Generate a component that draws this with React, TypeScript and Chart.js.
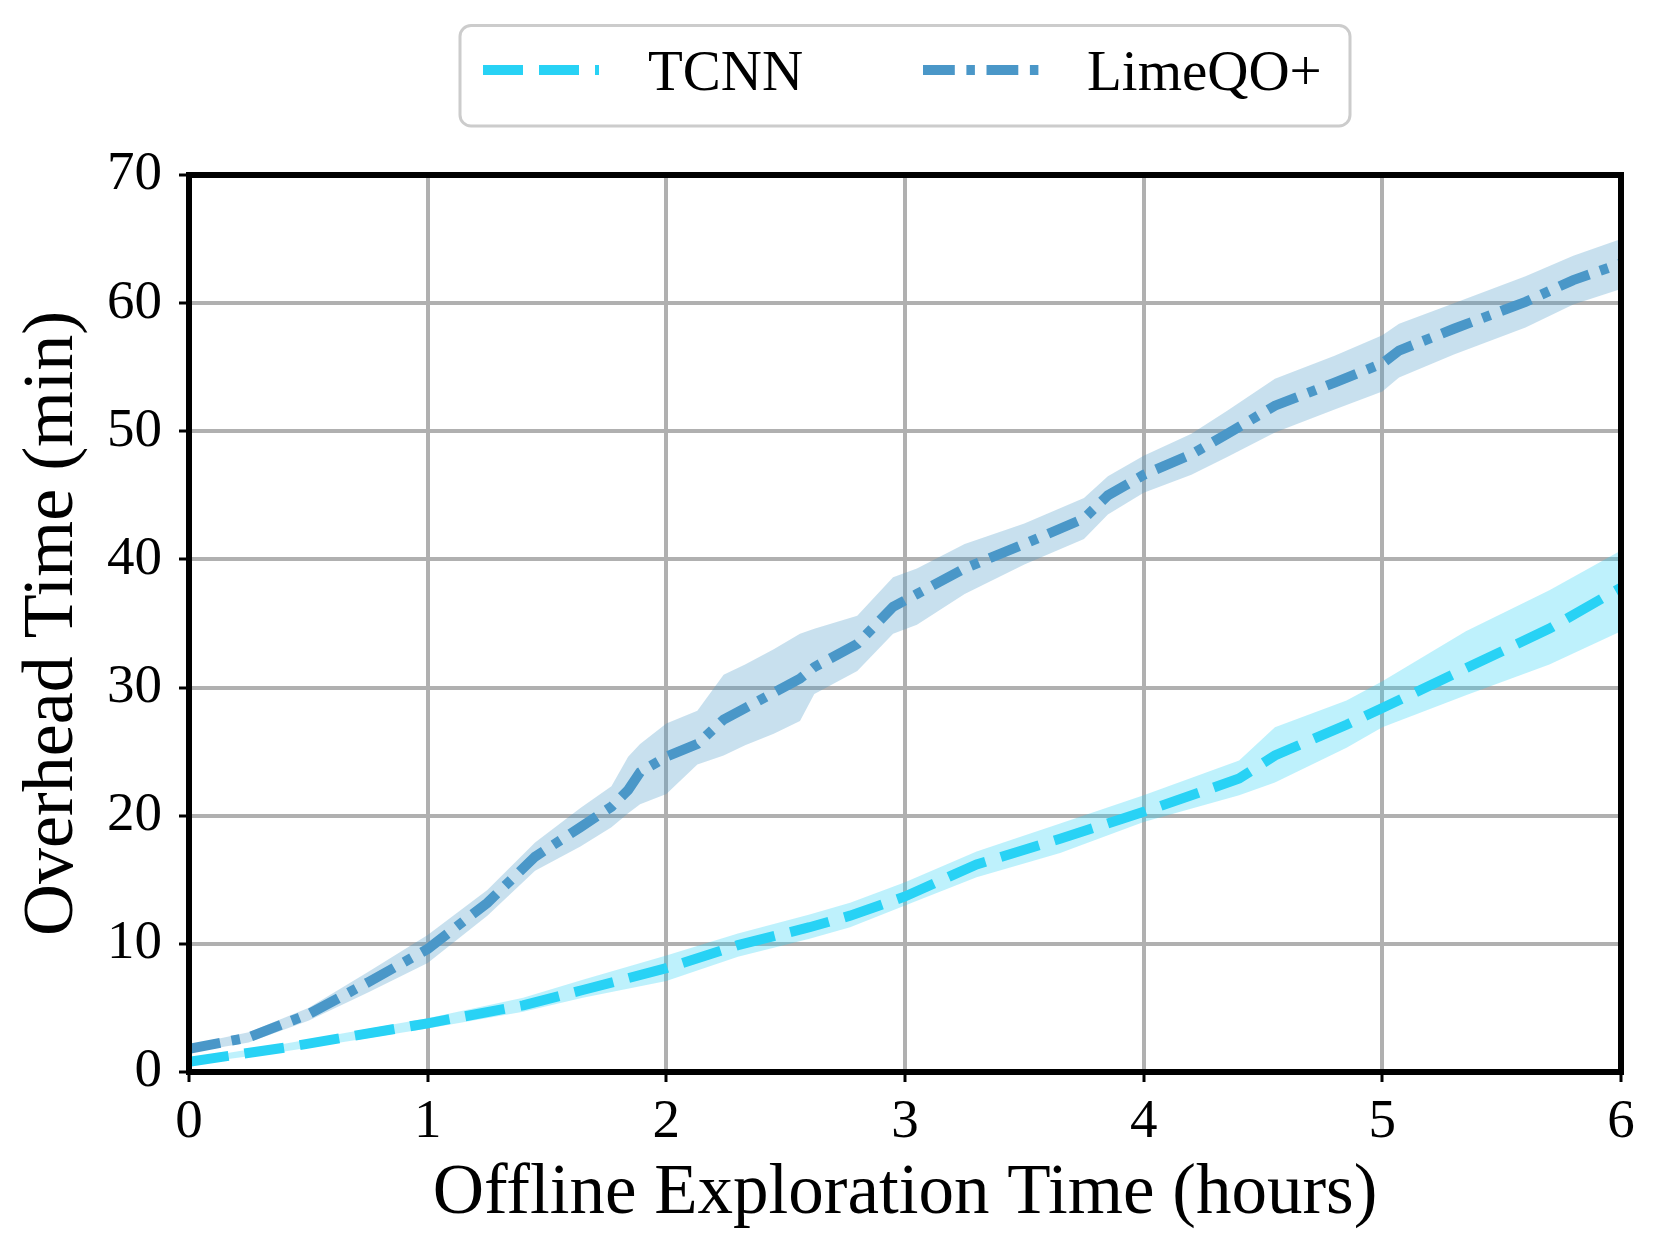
import React, { useEffect, useRef } from 'react';
import { Chart, registerables } from 'chart.js';

Chart.register(...registerables);

// ---- Data ----
const seriesNames = ['TCNN', 'LimeQO+'];

const tcnnHours = [0, 0.4, 1.0, 1.4, 1.65, 2.0, 2.3, 2.6, 2.77, 3.0, 3.3, 3.65, 4.0, 4.4, 4.55, 4.85, 5.0, 5.35, 5.7, 6.0];
const tcnnMean = [0.8, 1.9, 3.8, 5.2, 6.4, 8.1, 9.9, 11.3, 12.2, 13.7, 16.2, 18.2, 20.3, 22.9, 24.7, 27.1, 28.4, 31.5, 34.6, 37.8];
const tcnnLow = [0.6, 1.6, 3.4, 4.7, 5.8, 7.1, 9.0, 10.4, 11.3, 13.0, 15.2, 17.1, 19.5, 21.6, 22.6, 25.3, 26.9, 29.4, 31.8, 34.4];
const tcnnHigh = [1.0, 2.2, 4.2, 5.8, 7.2, 9.1, 10.8, 12.3, 13.2, 14.8, 17.2, 19.4, 21.6, 24.3, 26.9, 29.0, 30.5, 34.4, 37.6, 40.7];

const limeHours = [0, 0.25, 0.5, 0.75, 1.0, 1.25, 1.45, 1.64, 1.77, 1.84, 1.89, 2.0, 2.13, 2.24, 2.33, 2.45, 2.56, 2.62, 2.8, 2.95, 3.05, 3.25, 3.5, 3.75, 3.85, 4.0, 4.2, 4.35, 4.55, 4.8, 5.0, 5.07, 5.3, 5.6, 5.8, 6.0];
const limeMean = [1.8, 2.7, 4.5, 7.0, 9.6, 13.2, 16.8, 19.1, 20.7, 22.0, 23.4, 24.6, 25.6, 27.5, 28.4, 29.6, 30.7, 31.6, 33.4, 36.3, 37.3, 39.3, 41.2, 43.2, 45.0, 46.6, 48.2, 49.8, 52.0, 53.8, 55.3, 56.3, 58.0, 60.1, 61.8, 63.1];
const limeLow = [1.5, 2.3, 4.0, 6.2, 8.5, 12.2, 15.7, 17.6, 19.1, 20.2, 20.9, 21.7, 24.0, 24.7, 25.5, 26.4, 27.4, 29.5, 31.3, 34.2, 34.9, 37.3, 39.6, 41.6, 43.5, 45.2, 46.6, 48.0, 49.9, 51.7, 53.1, 54.2, 56.0, 58.1, 59.9, 61.1];
const limeHigh = [2.1, 3.1, 5.0, 7.8, 10.7, 14.2, 17.9, 20.6, 22.3, 24.6, 25.6, 27.2, 28.2, 31.0, 31.8, 33.0, 34.2, 34.6, 35.6, 38.6, 39.3, 41.2, 42.8, 44.8, 46.5, 48.1, 49.8, 51.6, 54.1, 55.9, 57.5, 58.4, 60.0, 62.1, 63.7, 65.0];

const xTicks = [0, 1, 2, 3, 4, 5, 6];
const yTicks = [0, 10, 20, 30, 40, 50, 60, 70];

const xTitle = 'Offline Exploration Time (hours)';
const yTitle = 'Overhead Time (min)';

// ---- Styles ----
const FONT = "'Liberation Serif', 'Times New Roman', serif";
const tcnnColor = '#28d2f5';
const tcnnBand = 'rgba(40,210,245,0.3)';
const limeColor = '#4a97c8';
const limeBand = 'rgba(74,151,200,0.3)';
const tcnnDash = [40, 16];
const limeDash = [31.8, 11.6, 8.5, 11.6];

const pts = (xs: number[], ys: number[]) => xs.map((x, i) => ({ x, y: ys[i] }));

const framePlugin = {
  id: 'frame',
  afterDatasetsDraw(chart: any) {
    const { ctx, chartArea } = chart;
    ctx.save();
    ctx.strokeStyle = '#000';
    ctx.lineWidth = 6;
    ctx.setLineDash([]);
    ctx.strokeRect(chartArea.left, chartArea.top, chartArea.right - chartArea.left, chartArea.bottom - chartArea.top);
    ctx.restore();
  },
};

const legendPlugin = {
  id: 'boxLegend',
  afterDraw(chart: any) {
    const ctx = chart.ctx;
    ctx.save();
    ctx.beginPath();
    ctx.roundRect(460, 25.5, 890, 100.5, 11);
    ctx.fillStyle = 'rgba(255,255,255,0.8)';
    ctx.fill();
    ctx.lineWidth = 3;
    ctx.strokeStyle = '#cccccc';
    ctx.stroke();

    const items = chart.data.datasets.filter((d: any) => d.showInLegend);
    const sampleX = [483, 923];
    const textX = [648, 1087];
    items.forEach((d: any, i: number) => {
      ctx.beginPath();
      ctx.setLineDash(d.borderDash || []);
      ctx.lineDashOffset = 0;
      ctx.lineCap = 'butt';
      ctx.lineWidth = d.borderWidth;
      ctx.strokeStyle = d.borderColor;
      ctx.moveTo(sampleX[i], 70);
      ctx.lineTo(sampleX[i] + 116, 70);
      ctx.stroke();
      ctx.setLineDash([]);
      ctx.fillStyle = '#000';
      ctx.font = `57px ${FONT}`;
      ctx.textBaseline = 'alphabetic';
      ctx.textAlign = 'left';
      ctx.fillText(d.label, textX[i], 90);
    });
    ctx.restore();
  },
};

export default function App() {
  const ref = useRef<HTMLCanvasElement | null>(null);

  useEffect(() => {
    document.body.style.margin = '0';
    const canvas = ref.current;
    if (!canvas) return;
    const chart = new Chart(canvas, {
      type: 'line',
      data: {
        datasets: [
          {
            label: seriesNames[0],
            showInLegend: true,
            data: pts(tcnnHours, tcnnMean),
            borderColor: tcnnColor,
            borderWidth: 10,
            borderDash: tcnnDash,
            borderCapStyle: 'butt',
            pointRadius: 0,
            tension: 0,
            fill: false,
            order: 0,
          } as any,
          {
            label: seriesNames[1],
            showInLegend: true,
            data: pts(limeHours, limeMean),
            borderColor: limeColor,
            borderWidth: 10,
            borderDash: limeDash,
            borderCapStyle: 'butt',
            pointRadius: 0,
            tension: 0,
            fill: false,
            order: 0,
          } as any,
          {
            label: 'TCNN high',
            data: pts(tcnnHours, tcnnHigh),
            borderWidth: 0,
            borderColor: 'rgba(0,0,0,0)',
            backgroundColor: tcnnBand,
            pointRadius: 0,
            fill: '+1',
            order: 1,
          },
          {
            label: 'TCNN low',
            data: pts(tcnnHours, tcnnLow),
            borderWidth: 0,
            borderColor: 'rgba(0,0,0,0)',
            pointRadius: 0,
            fill: false,
            order: 1,
          },
          {
            label: 'LimeQO+ high',
            data: pts(limeHours, limeHigh),
            borderWidth: 0,
            borderColor: 'rgba(0,0,0,0)',
            backgroundColor: limeBand,
            pointRadius: 0,
            fill: '+1',
            order: 1,
          },
          {
            label: 'LimeQO+ low',
            data: pts(limeHours, limeLow),
            borderWidth: 0,
            borderColor: 'rgba(0,0,0,0)',
            pointRadius: 0,
            fill: false,
            order: 1,
          },
        ],
      },
      options: {
        animation: false,
        responsive: false,
        devicePixelRatio: 1,
        layout: { padding: { left: 0, right: 40, top: 175, bottom: 0 } },
        plugins: {
          legend: { display: false },
          tooltip: { enabled: false },
        },
        scales: {
          x: {
            type: 'linear',
            min: 0,
            max: 6,
            afterFit: (s: any) => { s.height = 184; },
            afterBuildTicks: (s: any) => { s.ticks = xTicks.map((v) => ({ value: v })); },
            ticks: {
              color: '#000',
              font: { family: FONT, size: 55 },
              padding: 8,
              maxRotation: 0,
              callback: (v: any) => String(v),
            },
            grid: { color: '#b0b0b0', lineWidth: 4, tickLength: 10, tickWidth: 3, tickColor: '#000' },
            border: { display: false },
            title: {
              display: true,
              text: xTitle,
              color: '#000',
              font: { family: FONT, size: 71 },
              padding: { top: 0, bottom: 19 },
            },
          },
          y: {
            type: 'linear',
            min: 0,
            max: 70,
            afterFit: (s: any) => { s.width = 189; },
            afterBuildTicks: (s: any) => { s.ticks = yTicks.map((v) => ({ value: v })); },
            ticks: {
              color: '#000',
              font: { family: FONT, size: 55 },
              padding: 17,
              callback: (v: any) => String(v),
            },
            grid: { color: '#b0b0b0', lineWidth: 4, tickLength: 10, tickWidth: 3, tickColor: '#000' },
            border: { display: false },
            title: {
              display: true,
              text: yTitle,
              color: '#000',
              font: { family: FONT, size: 72 },
              padding: { top: 10, bottom: 0 },
            },
          },
        },
      },
      plugins: [framePlugin, legendPlugin],
    });
    return () => chart.destroy();
  }, []);

  return (
    <div style={{ position: 'absolute', left: 0, top: 0, width: 1661, height: 1256, background: '#fff' }}>
      <canvas ref={ref} width={1661} height={1256} style={{ width: 1661, height: 1256, display: 'block' }} />
    </div>
  );
}
